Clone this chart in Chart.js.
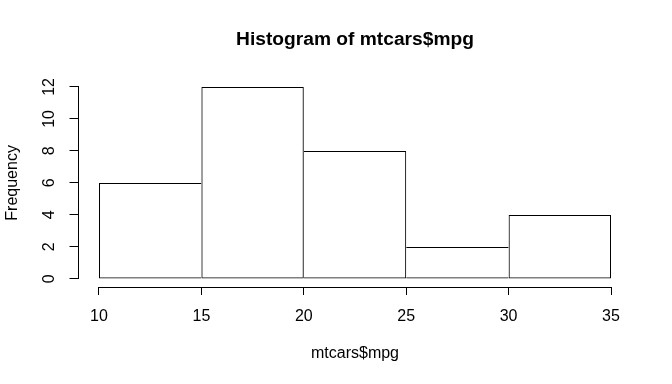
<!DOCTYPE html>
<html><head><meta charset="utf-8">
<script src="https://cdn.jsdelivr.net/npm/chart.js@4.4.1/dist/chart.umd.min.js"></script>
<style>html,body{margin:0;padding:0;background:#fff;}#wrap{width:672px;height:384px;}</style>
</head><body><div id="wrap"><canvas id="c" width="672" height="384"></canvas></div>
<script>
const titleText = 'Histogram of mtcars$mpg';
const xLabel = 'mtcars$mpg';
const yLabel = 'Frequency';
const breaks = [10, 15, 20, 25, 30, 35];
const counts = [6, 12, 8, 2, 4];
const xTicks = [10, 15, 20, 25, 30, 35];
const yTicks = [0, 2, 4, 6, 8, 10, 12];

Chart.defaults.font.family = "'Liberation Sans', Arial, sans-serif";
Chart.defaults.font.size = 16;
Chart.defaults.color = '#000';

const points = counts.map((c, i) => ({ x: (breaks[i] + breaks[i + 1]) / 2, y: c }));

const axisLines = {
  id: 'axisLines',
  afterDraw(chart) {
    const { ctx, chartArea } = chart;
    const xs = chart.scales.x, ys = chart.scales.y;
    const al = p => Math.round(p - 0.5) + 0.5;
    ctx.save();
    ctx.strokeStyle = '#000';
    ctx.lineWidth = 1;
    ctx.lineCap = 'square';
    ctx.beginPath();
    const ax = al(chartArea.left);
    ctx.moveTo(ax, al(ys.getPixelForValue(yTicks[0])));
    ctx.lineTo(ax, al(ys.getPixelForValue(yTicks[yTicks.length - 1])));
    const ay = al(chartArea.bottom);
    ctx.moveTo(al(xs.getPixelForValue(xTicks[0])), ay);
    ctx.lineTo(al(xs.getPixelForValue(xTicks[xTicks.length - 1])), ay);
    ctx.stroke();
    ctx.restore();
  }
};

new Chart(document.getElementById('c'), {
  type: 'bar',
  data: {
    datasets: [{
      data: points,
      backgroundColor: 'rgba(255,255,255,0)',
      borderColor: '#000',
      borderSkipped: false,
      inflateAmount: 0,
      barPercentage: 1,
      categoryPercentage: 1,
      borderWidth: (ctx) => {
        const i = ctx.dataIndex, n = counts.length;
        const left = (i === 0 || counts[i] >= counts[i - 1]) ? 1 : 0;
        const right = (i === n - 1 || counts[i] > counts[i + 1]) ? 1 : 0;
        return { top: 1, bottom: 1, left, right };
      }
    }]
  },
  options: {
    responsive: false,
    animation: false,
    devicePixelRatio: 1,
    layout: { padding: { left: 0, right: 40.5, top: 0, bottom: 0 } },
    plugins: {
      legend: { display: false },
      tooltip: { enabled: false },
      title: {
        display: true, text: titleText, fullSize: false,
        font: { size: 19.2, weight: 'bold' }, color: '#000',
        padding: { top: 27.9, bottom: 27.9 }
      }
    },
    scales: {
      x: {
        type: 'linear', min: 9, max: 36, offset: false,
        afterBuildTicks: s => { s.ticks = xTicks.map(v => ({ value: v })); },
        afterFit: s => { s.height = 97; },
        grid: { display: true, drawOnChartArea: false, drawTicks: true, tickLength: 8, color: '#000', tickColor: '#000', tickWidth: 1, offset: false },
        border: { display: false },
        ticks: { padding: 11.5, maxRotation: 0, autoSkip: false, color: '#000', font: { size: 16 } },
        title: { display: true, text: xLabel, color: '#000', font: { size: 16 }, padding: { top: 0, bottom: 20.9 } }
      },
      y: {
        type: 'linear', min: -0.50625, max: 12.50375,
        afterBuildTicks: s => { s.ticks = yTicks.map(v => ({ value: v })); },
        afterFit: s => { s.width = 78.5; },
        grid: { display: true, drawOnChartArea: false, drawTicks: true, tickLength: 9, color: '#000', tickColor: '#000', tickWidth: 1 },
        border: { display: false },
        ticks: { padding: 11.25, minRotation: 90, maxRotation: 90, crossAlign: 'center', autoSkip: false, color: '#000', font: { size: 16 } },
        title: { display: true, text: yLabel, color: '#000', font: { size: 16 }, padding: { top: 3.4, bottom: 0 } }
      }
    }
  },
  plugins: [axisLines]
});
</script>
</body></html>
